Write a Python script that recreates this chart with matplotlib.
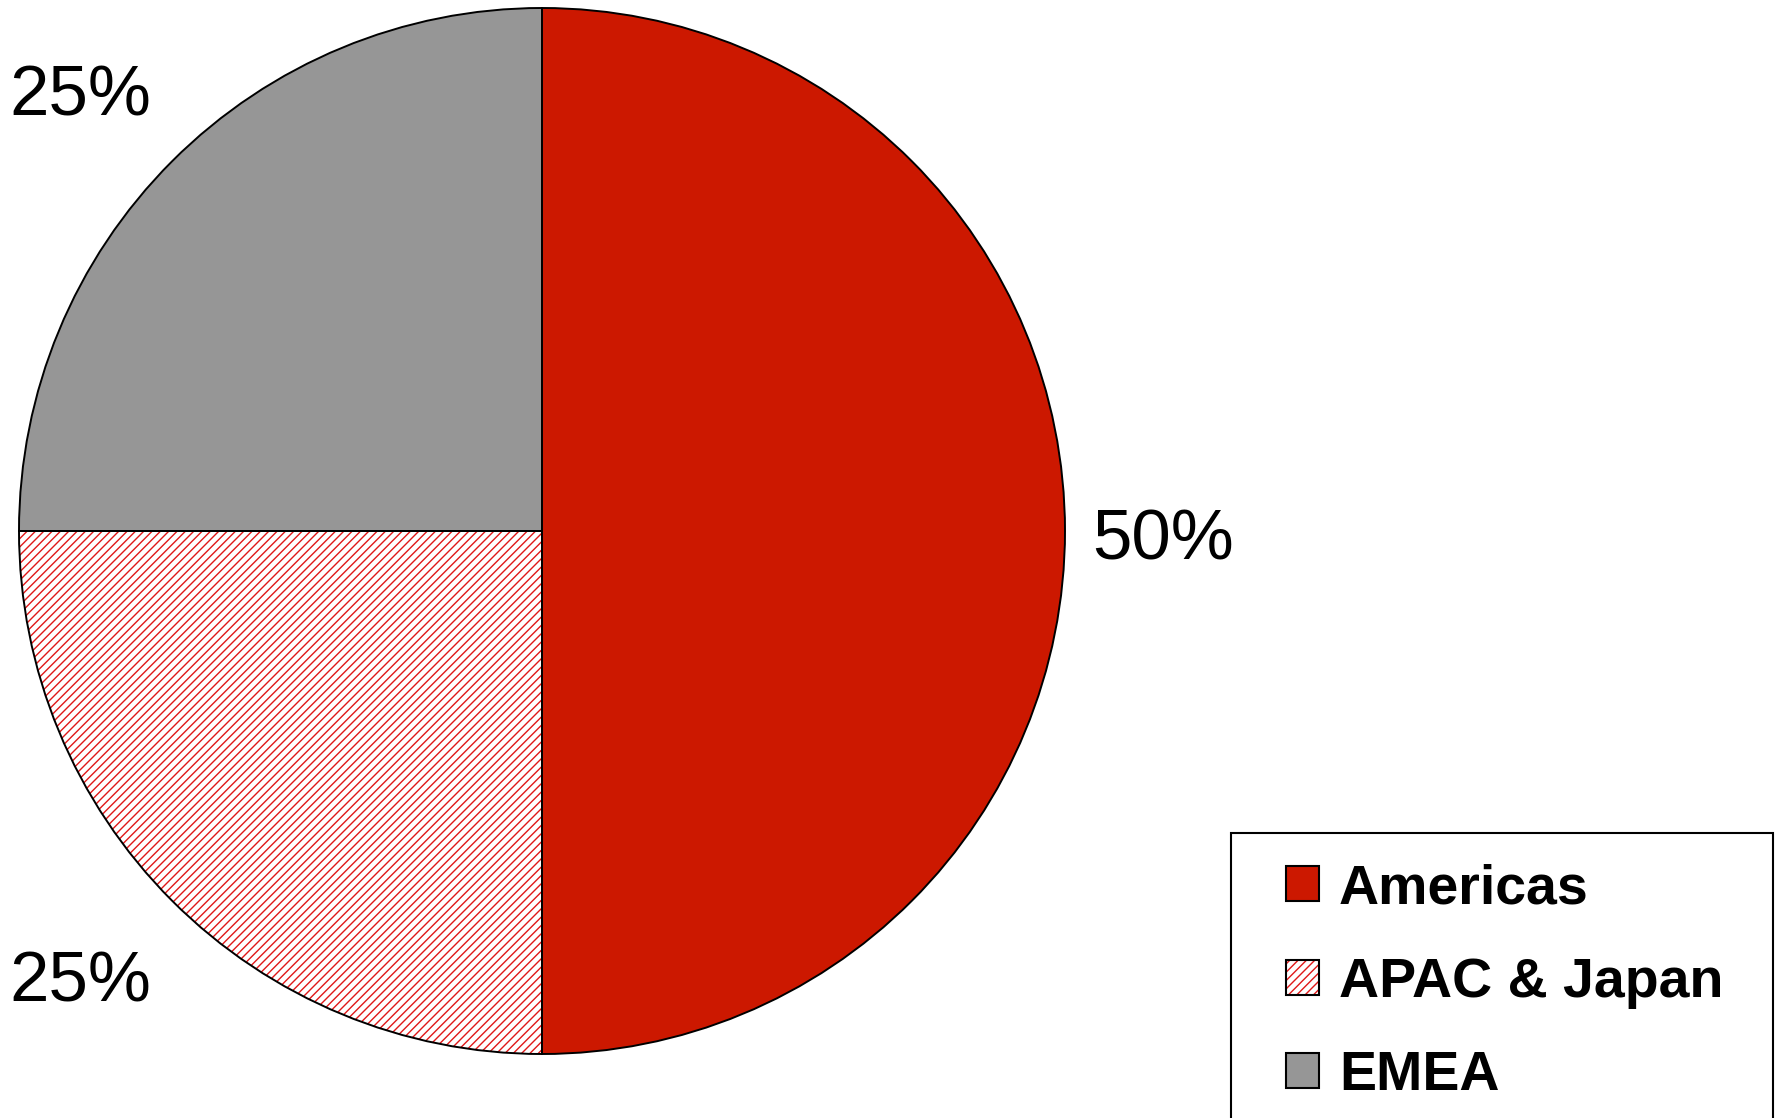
import matplotlib
matplotlib.use('Agg')
import matplotlib.pyplot as plt
from matplotlib.patches import Patch, Rectangle

plt.rcParams['font.family'] = ['Liberation Sans', 'DejaVu Sans']
plt.rcParams['hatch.linewidth'] = 1.0

regions = ['Americas', 'APAC & Japan', 'EMEA']
shares = [50, 25, 25]
fills = ['#cc1800', 'white', '#969696']
hatches = [None, '////', None]
hatch_red = '#e01818'

W, H = 1783, 1118
fig = plt.figure(figsize=(W / 100, H / 100), dpi=100)

# pie axes: centre (542, 531) px, radius 523 px
cx, cy, r = 542, 531, 523
ax = fig.add_axes([(cx - r) / W, (H - cy - r) / H, 2 * r / W, 2 * r / H])

wedges, _ = ax.pie(shares, colors=fills, startangle=90, counterclock=False,
                   radius=1, wedgeprops=dict(linewidth=0))
for w, h in zip(wedges, hatches):
    if h:
        w.set_hatch(h)
        w.set_edgecolor(hatch_red)
        w.set_linewidth(0)
# black outlines on top
ax.pie(shares, startangle=90, counterclock=False, radius=1,
       wedgeprops=dict(fill=False, edgecolor='black', linewidth=1.4))
ax.set_xlim(-1, 1)
ax.set_ylim(-1, 1)
ax.set_aspect('equal')
ax.axis('off')

# percentage labels
pct = ['{:d}%'.format(v) for v in shares]
ax.text(1.052, -0.054, pct[0], fontsize=51, ha='left', va='baseline')
ax.text(-1.018, 0.795, pct[2], fontsize=51, ha='left', va='baseline')
ax.text(-1.018, -0.90, pct[1], fontsize=51, ha='left', va='baseline')

# legend
handles = []
for c, h in zip(fills, hatches):
    if h:
        handles.append((Patch(facecolor='white', edgecolor=hatch_red, hatch=h, linewidth=0),
                        Patch(facecolor='none', edgecolor='black', linewidth=1.5)))
    else:
        handles.append(Patch(facecolor=c, edgecolor='black', linewidth=1.5))
leg = fig.legend(handles, regions, loc='upper left',
                 bbox_to_anchor=(1286 / W, 1 - 863 / H), frameon=False,
                 prop=dict(size=40, weight='bold'), handlelength=0.594,
                 handleheight=0.594, handletextpad=0.36, labelspacing=0.75,
                 borderpad=0, borderaxespad=0)

fig.patches.append(Rectangle((1231 / W, -0.05), (1773 - 1231) / W, (H - 833) / H + 0.05,
                             transform=fig.transFigure, fill=False,
                             edgecolor='black', linewidth=1.5))

fig.savefig('out.png', dpi=100)
